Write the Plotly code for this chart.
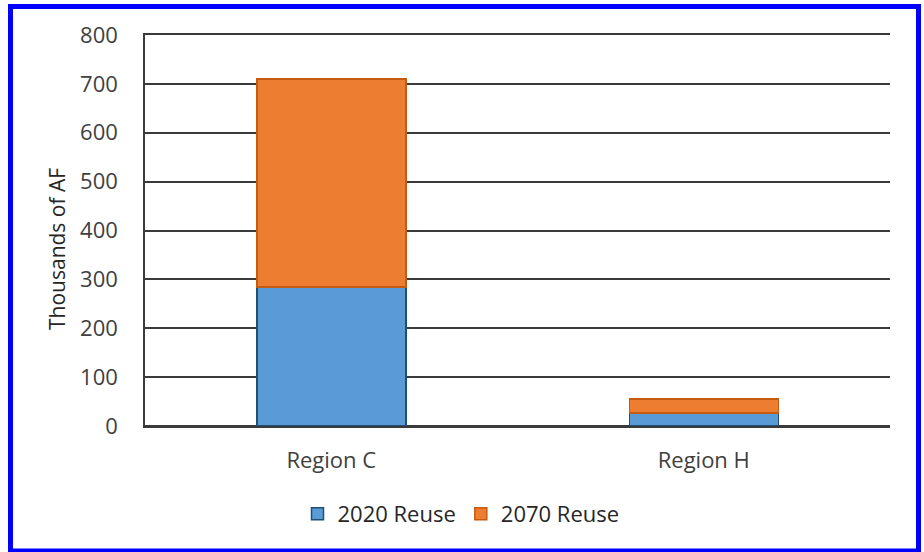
import plotly.graph_objects as go

regions = ["Region C", "Region H"]
reuse_2020 = [284, 27]
reuse_2070 = [426, 28]
y_ticks = [0, 100, 200, 300, 400, 500, 600, 700, 800]

W, H = 924, 552
L, R, T, B = 145, 34, 35, 126
pw, ph = W - L - R, H - T - B


def px_x(p):
    return (p - L) / pw


def px_y(p):
    return (H - B - p) / ph


font_family = "'Open Sans', sans-serif"
axis_color = "#3a3a3a"

fig = go.Figure()
fig.add_trace(go.Bar(
    x=regions, y=reuse_2020, name="2020 Reuse",
    marker=dict(color="#5B9BD5", line=dict(color="#1F4E79", width=1.5)),
))
fig.add_trace(go.Bar(
    x=regions, y=reuse_2070, name="2070 Reuse",
    marker=dict(color="#ED7D31", line=dict(color="#C55A11", width=1.5)),
))

# blue frame around the whole chart
fig.add_shape(
    type="rect", xref="paper", yref="paper",
    x0=px_x(10.5), x1=px_x(918.5), y0=px_y(551), y1=px_y(6.5),
    line=dict(color="#0000FF", width=5), fillcolor="rgba(0,0,0,0)",
)

# y-axis title, placed slightly below the vertical centre of the plot
fig.add_annotation(
    text="Thousands of AF", textangle=-90, showarrow=False,
    xref="paper", yref="paper", x=px_x(57), y=px_y(249),
    xanchor="center", yanchor="middle",
    font=dict(family=font_family, size=21, color="#262626"),
)

fig.update_layout(
    width=W, height=H,
    margin=dict(l=L, r=R, t=T, b=B),
    barmode="stack",
    bargap=0.6,
    paper_bgcolor="white",
    plot_bgcolor="white",
    font=dict(family=font_family, size=22, color="#404040"),
    showlegend=True,
    legend=dict(
        orientation="h", x=px_x(461), xanchor="center",
        y=px_y(514), yanchor="middle",
        font=dict(size=22, color="#262626"),
        itemwidth=30, traceorder="normal",
    ),
    xaxis=dict(
        showgrid=False, ticks="",
        showline=True, mirror=True, linecolor=axis_color, linewidth=1.5,
        ticklabelstandoff=14,
        tickfont=dict(size=22, color="#404040"),
    ),
    yaxis=dict(
        range=[0, 800], tickvals=y_ticks,
        showgrid=True, gridcolor=axis_color, gridwidth=1.5,
        zeroline=True, zerolinecolor=axis_color, zerolinewidth=1.5,
        showline=True, linecolor=axis_color, linewidth=1.5,
        ticks="", ticklabelstandoff=21,
        tickfont=dict(size=22, color="#404040"),
    ),
)

fig.write_html("out.html")
